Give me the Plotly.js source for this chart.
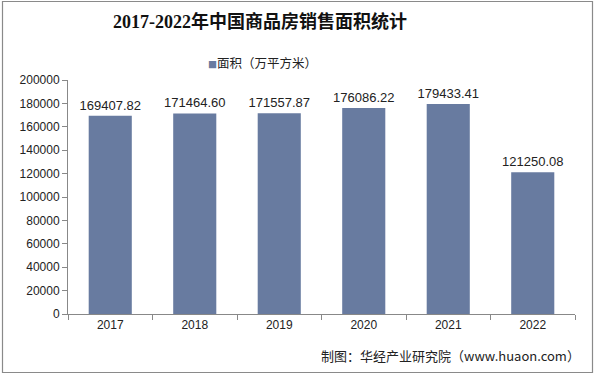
<!DOCTYPE html>
<html>
<head>
<meta charset="utf-8">
<script src="https://cdn.plot.ly/plotly-3.0.1.min.js"></script>
<style>
html,body{margin:0;padding:0;background:#fff;}
#chart{width:596px;height:376px;}
</style>
</head>
<body>
<div id="chart"></div>
<script>
const years = ['2017', '2018', '2019', '2020', '2021', '2022'];
const areaValues = [169407.82, 171464.60, 171557.87, 176086.22, 179433.41, 121250.08];
const valueLabels = ['169407.82', '171464.60', '171557.87', '176086.22', '179433.41', '121250.08'];
const seriesName = '面积（万平方米）';
const yTickValues = [0, 20000, 40000, 60000, 80000, 100000, 120000, 140000, 160000, 180000, 200000];

const W = 596, H = 376;
const m = {l: 68, r: 21, t: 80, b: 62};
const pw = W - m.l - m.r, ph = H - m.t - m.b;
const px = x => (x - m.l) / pw;
const py = y => (H - m.b - y) / ph;
const barColor = '#687ba0';

const trace = {
  type: 'bar',
  x: years,
  y: areaValues,
  name: seriesName,
  text: valueLabels,
  textposition: 'outside',
  constraintext: 'none',
  cliponaxis: false,
  textfont: {family: 'Arial, Liberation Sans, sans-serif', size: 13, color: '#222'},
  marker: {color: barColor},
  showlegend: false
};

const layout = {
  width: W, height: H,
  margin: m,
  paper_bgcolor: '#fff',
  plot_bgcolor: '#fff',
  bargap: 0.49,
  title: {
    text: '<b>2017-2022年中国商品房销售面积统计</b>',
    font: {family: 'Liberation Serif, Noto Sans CJK SC, serif', size: 18, color: '#111'},
    x: 260 / W, xanchor: 'center', xref: 'container',
    y: 1 - 22 / H, yanchor: 'middle', yref: 'container'
  },
  showlegend: false,
  xaxis: {
    type: 'category',
    showline: true, linecolor: '#888', linewidth: 1,
    ticks: 'outside', ticklen: 5, tickcolor: '#888',
    tickson: 'boundaries',
    showgrid: false, zeroline: false,
    tickfont: {family: 'Arial, Liberation Sans, sans-serif', size: 12, color: '#222'}
  },
  yaxis: {
    range: [0, 200000],
    tickvals: yTickValues,
    ticktext: yTickValues.map(String),
    showline: true, linecolor: '#888', linewidth: 1,
    ticks: 'outside', ticklen: 5, tickcolor: '#888',
    showgrid: false, zeroline: false,
    tickfont: {family: 'Arial, Liberation Sans, sans-serif', size: 12, color: '#222'}
  },
  shapes: [{
    type: 'rect', xref: 'paper', yref: 'paper',
    x0: px(2.5), x1: px(592.5), y0: py(372.5), y1: py(1.5),
    line: {color: '#8a8a8a', width: 1.2}
  }],
  annotations: [{
    text: '<span style="color:' + barColor + ';font-size:9px">■</span>' + seriesName,
    xref: 'paper', yref: 'paper',
    x: px(262), xanchor: 'center',
    y: py(62), yanchor: 'middle',
    showarrow: false,
    font: {family: 'Noto Sans CJK SC, sans-serif', size: 12.5, color: '#222'}
  }, {
    text: '制图：华经产业研究院（www.huaon.com）',
    xref: 'paper', yref: 'paper',
    x: px(582), xanchor: 'right',
    y: py(355), yanchor: 'middle',
    showarrow: false,
    font: {family: 'Noto Sans CJK SC, sans-serif', size: 13, color: '#222'}
  }]
};

Plotly.newPlot('chart', [trace], layout, {displayModeBar: false, staticPlot: true});
</script>
</body>
</html>
